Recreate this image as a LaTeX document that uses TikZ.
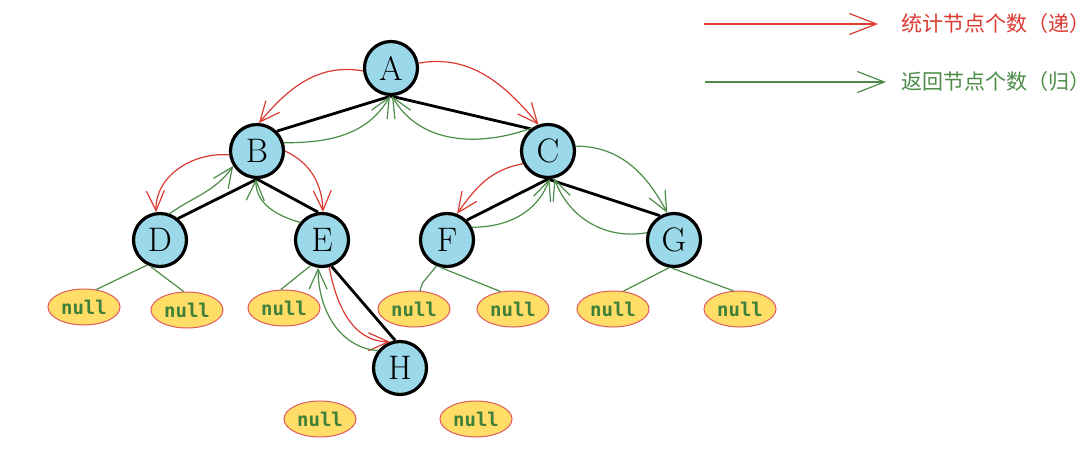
\documentclass[tikz,border=0pt]{standalone}
\usepackage{fontspec}
\usetikzlibrary{arrows.meta,shapes.geometric}
\newfontfamily\cjk{Noto Sans CJK SC}
\newfontfamily\monob{DejaVu Sans Mono Bold}
\definecolor{nodeblue}{HTML}{9BD8E9}
\definecolor{nullfill}{HTML}{FFDD66}
\definecolor{nullborder}{HTML}{E05A5A}
\definecolor{myred}{HTML}{DD3B32}
\definecolor{mygreen}{HTML}{4D8C48}
\definecolor{nulltext}{HTML}{3E7F3A}
\tikzset{
  tn/.style={circle, draw=black, line width=3.2pt, fill=nodeblue, minimum size=53pt, inner sep=0pt, font=\fontsize{34}{34}\selectfont},
  nl/.style={ellipse, draw=nullborder, line width=1pt, fill=nullfill, minimum width=72pt, minimum height=36pt, inner sep=0pt, text=nulltext, font=\monob\fontsize{19}{19}\selectfont},
  edge/.style={line width=2.8pt, black},
  redarr/.style={myred, line width=1.2pt, -{Straight Barb[length=20pt,width=18pt,line width=1.2pt]}},
  grnarr/.style={mygreen, line width=1.2pt, -{Straight Barb[length=20pt,width=18pt,line width=1.2pt]}},
  legred/.style={myred, line width=1.2pt, -{Straight Barb[length=27pt,width=21pt,line width=1.2pt]}},
  leggrn/.style={mygreen, line width=1.2pt, -{Straight Barb[length=27pt,width=21pt,line width=1.2pt]}},
  nline/.style={mygreen, line width=1.2pt},
}
\begin{document}
\begin{tikzpicture}[x=1pt,y=-1pt]
\useasboundingbox[fill=white] (0,0) rectangle (1092,448);
% legend
\coordinate (l1s) at (704,24);
\coordinate (l1e) at (878,24);
\coordinate (l2s) at (705,82);
\coordinate (l2e) at (886,82);
\draw[legred] (l1s) -- (l1e);
\draw[leggrn] (l2s) -- (l2e);
\node[anchor=west, text=myred, font=\cjk\fontsize{21}{21}\selectfont, inner sep=0pt] (lt1) at (901,24) {统计节点个数（递）};
\node[anchor=west, text=mygreen, font=\cjk\fontsize{21}{21}\selectfont, inner sep=0pt] (lt2) at (901,82) {返回节点个数（归）};
% null nodes
\node[nl] (n1) at (84,307) {null};
\node[nl] (n2) at (187,310) {null};
\node[nl] (n3) at (284,308) {null};
\node[nl] (n4) at (414,309) {null};
\node[nl] (n5) at (513,309) {null};
\node[nl] (n6) at (613,309) {null};
\node[nl] (n7) at (740,309) {null};
\node[nl] (n8) at (320,419) {null};
\node[nl] (n9) at (476,419) {null};
% tree nodes
\node[tn] (A) at (391,68) {A};
\node[tn] (B) at (257,151) {B};
\node[tn] (C) at (548,151) {C};
\node[tn] (D) at (160,240) {D};
\node[tn] (E) at (322,240) {E};
\node[tn] (F) at (447,240) {F};
\node[tn] (G) at (674,240) {G};
\node[tn] (H) at (400,368) {H};
% null lines
\draw[nline] (D.243) -- (n1.55);
\draw[nline] (D.250) -- (n2.100);
\draw[nline] (E.246) -- (n3.100);
\draw[nline] (F.248) -- ++(-14,17) -- (n4.72);
\draw[nline] (F.255) -- (n5.125);
\draw[nline] (G.260) -- (n6.60);
\draw[nline] (G.265) -- (n7.110);
% tree edges
\draw[edge] (A.270) -- (B.45);
\draw[edge] (A.270) -- (C.128);
\draw[edge] (B.270) -- (D.50);
\draw[edge] (B.270) -- (E.98);
\draw[edge] (C.270) -- (F.45);
\draw[edge] (C.270) -- (G.120);
\draw[edge] (E.290) -- (H.100);
% recursion arrows
\draw[redarr] (A.186) to[out=170,in=50] (B.86);
\draw[redarr] (A.10) to[out=10,in=130] (C.110);
\draw[grnarr] (B.17) to[out=0,in=240] (A.268);
\draw[grnarr] (C.125) to[out=200,in=300] (A.272);
\draw[redarr] (B.188) to[out=175,in=92] (D.98);
\draw[grnarr] (D.70) to[out=35,in=235] (B.212);
\draw[redarr] (B.0) to[out=-25,in=92] (E.88);
\draw[grnarr] (E.141) to[out=165,in=-92] (B.268);
\draw[redarr] (C.207) to[out=190,in=55] (F.69);
\draw[grnarr] (F.27) to[out=0,in=250] (C.273);
\draw[grnarr] (C.10) to[out=0,in=118] (G.104);
\draw[grnarr] (G.165) to[out=190,in=290] (C.283);
\draw[redarr] (E.285) to[out=-80,in=180] (H.111);
\draw[grnarr] (H.142) to[out=175,in=-90] (E.262);
\end{tikzpicture}
\end{document}
